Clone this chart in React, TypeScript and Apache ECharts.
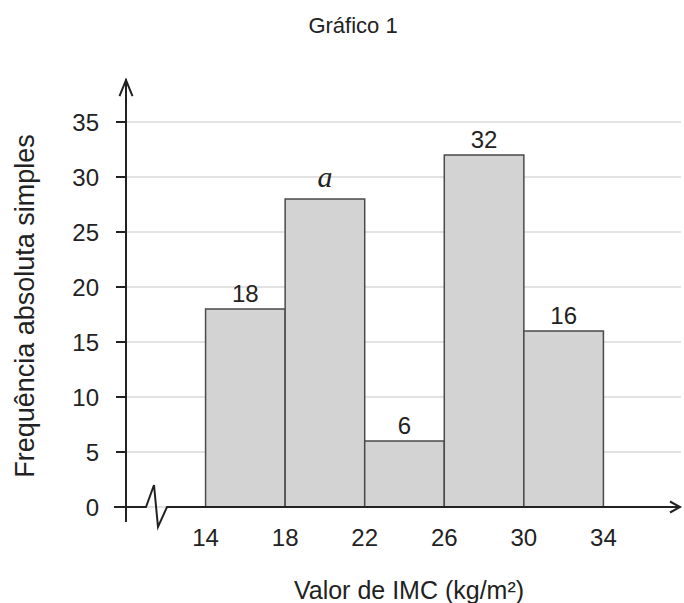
import React, { useEffect, useRef } from "react";
import * as echarts from "echarts";

const binStarts = [14, 18, 22, 26, 30];
const binEnds = [18, 22, 26, 30, 34];
const frequencies = [18, 28, 6, 32, 16];
const barLabels = ["18", "a", "6", "32", "16"];
const xTickValues = [14, 18, 22, 26, 30, 34];
const yTickStep = 5;

const xMin = 10;
const xMax = 37.9;
const yMax = 35;
const yArrowValue = 38.9;

const SANS = "'Liberation Sans', Arial, Helvetica, sans-serif";
const TEXT = "#222";

export default function App() {
  const ref = useRef<HTMLDivElement>(null);

  useEffect(() => {
    if (!ref.current) return;
    const chart = echarts.init(ref.current, null, { renderer: "svg" });
    const data = binStarts.map((s, i) => [s, binEnds[i], frequencies[i]]);

    chart.setOption({
      animation: false,
      grid: { left: 126, right: 0, top: 122, bottom: 96 },
      xAxis: {
        type: "value",
        min: xMin,
        max: xMax,
        interval: 4,
        axisLine: { show: false },
        axisTick: { show: false },
        splitLine: { show: false },
        axisLabel: {
          margin: 18,
          color: TEXT,
          fontSize: 24,
          fontFamily: SANS,
          formatter: (v: number) => (xTickValues.indexOf(v) >= 0 ? String(v) : ""),
        },
      },
      yAxis: {
        type: "value",
        min: 0,
        max: yMax,
        interval: yTickStep,
        axisLine: { show: false },
        axisTick: { show: true, inside: false, length: 10, lineStyle: { color: TEXT, width: 2 } },
        splitLine: { show: true, lineStyle: { color: "#e2e2e2", width: 2 } },
        axisLabel: { margin: 27, color: TEXT, fontSize: 24, fontFamily: SANS },
      },
      series: [
        {
          type: "custom",
          data,
          encode: { x: [0, 1], y: 2 },
          renderItem: (params: any, api: any) => {
            const s = api.value(0);
            const e = api.value(1);
            const v = api.value(2);
            const idx = params.dataIndex;
            const p0 = api.coord([s, v]);
            const p1 = api.coord([e, 0]);
            const isA = barLabels[idx] === "a";
            return {
              type: "group",
              children: [
                {
                  type: "rect",
                  shape: { x: p0[0], y: p0[1], width: p1[0] - p0[0], height: p1[1] - p0[1] },
                  style: { fill: "#d3d3d3", stroke: "#4a4a4a", lineWidth: 1.5 },
                },
                {
                  type: "text",
                  x: (p0[0] + p1[0]) / 2,
                  y: isA ? p0[1] - 8 : p0[1] - 4,
                  style: {
                    text: barLabels[idx],
                    fill: TEXT,
                    font: isA
                      ? "italic 30px 'Liberation Serif', 'Times New Roman', serif"
                      : `24px ${SANS}`,
                    align: "center",
                    verticalAlign: "bottom",
                    textAlign: "center",
                    textVerticalAlign: "bottom",
                  },
                },
              ],
            };
          },
        },
      ],
    });

    const o = chart.convertToPixel({ gridIndex: 0 }, [xMin, 0]) as number[];
    const t = chart.convertToPixel({ gridIndex: 0 }, [xMax, yMax]) as number[];
    const ox = o[0];
    const oy = o[1];
    const pxPerY = (oy - t[1]) / yMax;
    const yTip = oy - yArrowValue * pxPerY;
    const xTip = t[0] - 1;
    const lineStyle = { stroke: "#222", lineWidth: 2, fill: null };

    chart.setOption({
      graphic: [
        {
          type: "polyline",
          z: 100,
          shape: { points: [[ox, oy + 15], [ox, yTip]] },
          style: lineStyle,
        },
        {
          type: "polyline",
          z: 100,
          shape: { points: [[ox - 6.5, yTip + 17], [ox, yTip + 1], [ox + 6.5, yTip + 17]] },
          style: lineStyle,
        },
        {
          type: "polyline",
          z: 100,
          shape: {
            points: [
              [ox - 12, oy],
              [ox + 20, oy],
              [ox + 28, oy - 22],
              [ox + 32, oy + 20],
              [ox + 41, oy],
              [xTip, oy],
            ],
          },
          style: lineStyle,
        },
        {
          type: "polyline",
          z: 100,
          shape: { points: [[xTip - 10, oy - 5.5], [xTip, oy], [xTip - 10, oy + 5.5]] },
          style: lineStyle,
        },
        {
          type: "text",
          x: 353,
          y: 25,
          style: {
            text: "Gráfico 1",
            fill: TEXT,
            font: `22px ${SANS}`,
            align: "center",
            verticalAlign: "middle",
            textAlign: "center",
            textVerticalAlign: "middle",
          },
        },
        {
          type: "text",
          x: 409,
          y: 590,
          style: {
            text: "Valor de IMC (kg/m²)",
            fill: TEXT,
            font: `25px ${SANS}`,
            align: "center",
            verticalAlign: "middle",
            textAlign: "center",
            textVerticalAlign: "middle",
          },
        },
        {
          type: "text",
          x: 25,
          y: 306,
          rotation: Math.PI / 2,
          style: {
            text: "Frequência absoluta simples",
            fill: TEXT,
            font: `27px ${SANS}`,
            align: "center",
            verticalAlign: "middle",
            textAlign: "center",
            textVerticalAlign: "middle",
          },
        },
      ],
    });

    return () => chart.dispose();
  }, []);

  return (
    <div
      ref={ref}
      style={{ position: "fixed", left: 0, top: 0, width: 684, height: 603, background: "#fff" }}
    />
  );
}
